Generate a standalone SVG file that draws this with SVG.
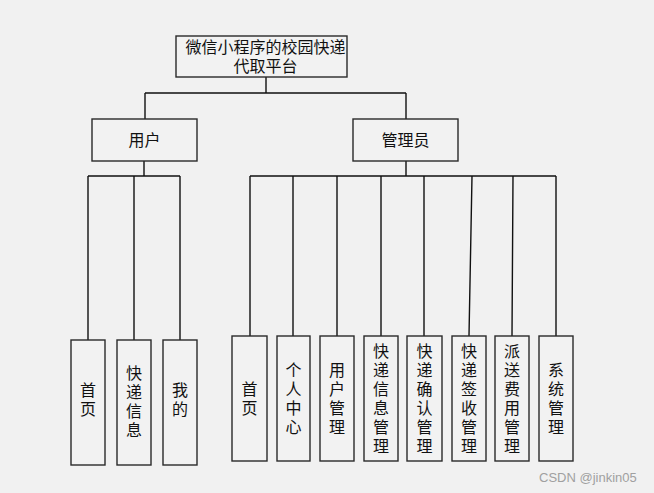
<svg xmlns="http://www.w3.org/2000/svg" width="654" height="493" viewBox="0 0 654 493">
<style>
.box{fill:#f2f2f2;stroke:#2a2a2a;stroke-width:1.4}
.t{font-family:"Noto Sans CJK SC","Microsoft YaHei",sans-serif;font-size:16px;fill:#111;text-anchor:middle}
.v{font-family:"Noto Sans CJK SC","Microsoft YaHei",sans-serif;font-size:16px;fill:#111;text-anchor:middle;writing-mode:vertical-rl;letter-spacing:3px}
.ln{stroke:#111;stroke-width:1.4;fill:none}
.wm{font-family:"Liberation Sans",Arial,sans-serif;font-size:13px;fill:#a0a0a0}
</style>
<rect width="654" height="493" fill="#f1f1f1"/>
<g id="connectors">
<path class="ln" d="M266,77V93M145,93H406M145,93V119M406,93V119"/>
<path class="ln" d="M144,161V176M88,176H180M88,176V340M134,176V340M180,176V340"/>
<path class="ln" d="M406,161V176M250,176H556M250,176V336M293,176V336M337,176V336M381,176V336M424,176V336M472,176L469,336M513,176L512,336M556,176V336"/>
</g>
<g id="root">
<rect class="box" x="176" y="36" width="171" height="41"/>
<text class="t"><tspan x="265.5" y="53">微信小程序的校园快递</tspan><tspan x="265.5" y="72">代取平台</tspan></text>
</g>
<g id="user">
<rect class="box" x="92" y="119" width="105" height="42"/>
<text class="t" x="144.5" y="146">用户</text>
</g>
<g id="admin">
<rect class="box" x="353" y="119" width="105" height="42"/>
<text class="t" x="405.5" y="146">管理员</text>
</g>
<g id="u1">
<rect class="box" x="71" y="340" width="34" height="125"/>
<text class="v" x="88" y="401">首页</text>
</g>
<g id="u2">
<rect class="box" x="117" y="340" width="34" height="125"/>
<text class="v" x="134" y="403">快递信息</text>
</g>
<g id="u3">
<rect class="box" x="163" y="340" width="34" height="125"/>
<text class="v" x="180" y="401">我的</text>
</g>
<g id="a1">
<rect class="box" x="232" y="336" width="35" height="125"/>
<text class="v" x="249.5" y="400">首页</text>
</g>
<g id="a2">
<rect class="box" x="277" y="336" width="33" height="125"/>
<text class="v" x="293.5" y="400">个人中心</text>
</g>
<g id="a3">
<rect class="box" x="320" y="336" width="34" height="125"/>
<text class="v" x="337" y="400">用户管理</text>
</g>
<g id="a4">
<rect class="box" x="364" y="336" width="34" height="125"/>
<text class="v" x="381" y="400">快递信息管理</text>
</g>
<g id="a5">
<rect class="box" x="407" y="336" width="35" height="125"/>
<text class="v" x="424.5" y="400">快递确认管理</text>
</g>
<g id="a6">
<rect class="box" x="452" y="336" width="34" height="125"/>
<text class="v" x="469" y="400">快递签收管理</text>
</g>
<g id="a7">
<rect class="box" x="495" y="336" width="34" height="125"/>
<text class="v" x="512" y="400">派送费用管理</text>
</g>
<g id="a8">
<rect class="box" x="539" y="336" width="34" height="125"/>
<text class="v" x="556" y="400">系统管理</text>
</g>
<text class="wm" x="539" y="482">CSDN @jinkin05</text>
</svg>
